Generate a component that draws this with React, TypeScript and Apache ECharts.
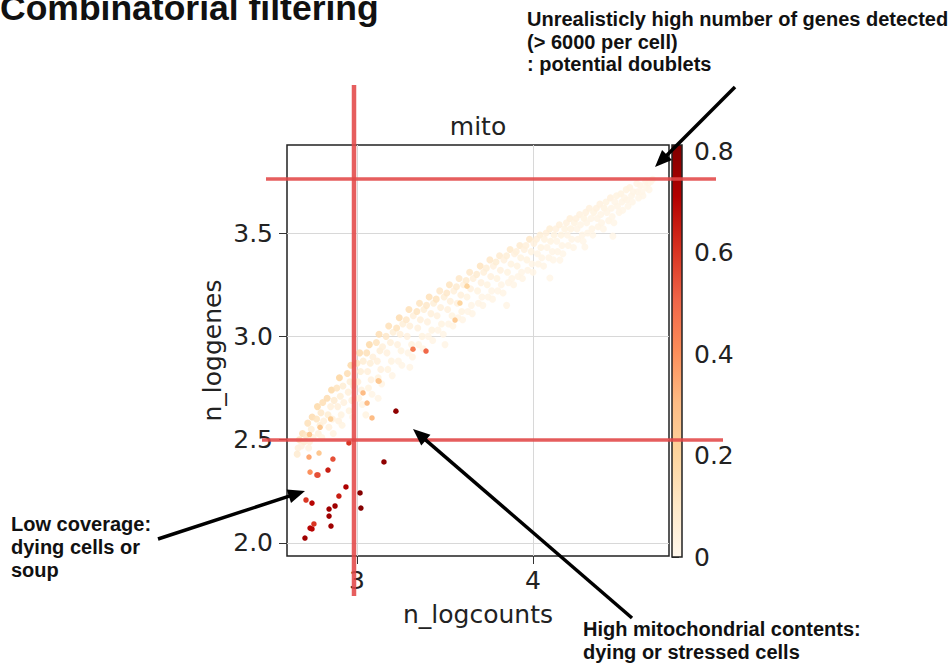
import React, { useEffect, useRef } from 'react';
import * as echarts from 'echarts';

// ---------- data ----------
const xTicks = [3, 4];
const yTicks = [2.0, 2.5, 3.0, 3.5];
const cbTicks = [0, 0.2, 0.4, 0.6, 0.8];
const xRange = [2.602, 4.773];
const yRange = [1.937, 3.926];
const mitoMax = 0.812;
const orrd = ['#fff7ec', '#fee8c8', '#fdd49e', '#fdbb84', '#fc8d59', '#ef6548', '#d7301f', '#b30000', '#7f0000'];

// [n_logcounts, n_loggenes, mito] — dense main cloud
const bandCells = [
  [2.665,2.46,.05],[2.672,2.50,.12],[2.684,2.47,.04],[2.69,2.53,.15],[2.70,2.49,.06],[2.66,2.43,.08],
  [2.71,2.52,.10],[2.72,2.58,.14],[2.73,2.49,.05],[2.74,2.55,.06],[2.745,2.61,.16],[2.75,2.51,.04],[2.725,2.46,.03],
  [2.77,2.60,.12],[2.775,2.66,.18],[2.78,2.53,.05],[2.79,2.57,.06],[2.795,2.63,.10],[2.80,2.51,.03],[2.805,2.68,.15],[2.81,2.59,.05],
  [2.83,2.70,.16],[2.835,2.62,.07],[2.84,2.56,.04],[2.85,2.66,.05],[2.855,2.74,.18],[2.86,2.60,.04],[2.865,2.53,.03],[2.87,2.69,.08],
  [2.885,2.75,.12],[2.89,2.66,.05],[2.895,2.59,.04],[2.90,2.80,.2],[2.905,2.71,.06],[2.91,2.62,.03],[2.915,2.57,.03],[2.92,2.76,.07],[2.925,2.68,.04],
  [2.945,2.82,.15],[2.95,2.73,.05],[2.955,2.64,.03],[2.96,2.78,.06],[2.965,2.86,.18],[2.97,2.69,.04],[2.975,2.61,.02],[2.98,2.76,.05],
  [3.00,2.87,.12],[3.005,2.78,.05],[3.01,2.70,.03],[3.015,2.92,.16],[3.02,2.83,.06],[3.025,2.74,.04],[3.03,2.67,.02],[3.035,2.88,.07],
  [3.055,2.92,.14],[3.06,2.83,.05],[3.065,2.75,.03],[3.07,2.96,.18],[3.075,2.87,.06],[3.08,2.79,.04],[3.085,2.72,.02],[3.09,2.90,.05],
  [3.11,2.97,.12],[3.115,2.88,.05],[3.12,2.80,.03],[3.125,3.01,.15],[3.13,2.93,.06],[3.135,2.84,.04],[3.14,2.77,.02],[3.145,2.95,.05],
  [3.165,3.00,.1],[3.17,2.92,.04],[3.175,2.84,.03],[3.18,3.05,.14],[3.19,2.97,.05],[3.195,2.88,.03],[3.20,2.81,.02],[3.205,3.02,.06],
  [3.225,3.04,.12],[3.23,2.96,.04],[3.235,2.88,.02],[3.24,3.09,.16],[3.245,3.01,.05],[3.25,2.93,.03],[3.255,2.86,.02],[3.26,3.06,.06],
  [3.28,3.08,.1],[3.285,3.00,.04],[3.29,2.92,.02],[3.295,3.13,.14],[3.30,3.05,.05],[3.31,2.96,.03],[3.315,2.90,.02],[3.32,3.10,.05],
  [3.34,3.12,.12],[3.345,3.04,.04],[3.35,2.96,.02],[3.355,3.16,.12],[3.36,3.08,.05],[3.37,3.00,.03],[3.375,2.94,.02],[3.38,3.13,.06],
  [3.395,3.15,.1],[3.40,3.07,.04],[3.405,3.00,.02],[3.41,3.19,.14],[3.42,3.11,.05],[3.425,3.03,.03],[3.43,2.98,.02],[3.435,3.16,.06],
  [3.45,3.18,.12],[3.455,3.10,.04],[3.46,3.03,.02],[3.47,3.22,.1],[3.475,3.14,.05],[3.48,3.06,.03],[3.49,3.01,.02],[3.495,3.19,.06],
  [3.51,3.21,.1],[3.515,3.13,.04],[3.52,3.06,.02],[3.525,3.25,.12],[3.53,3.17,.05],[3.54,3.10,.03],[3.545,3.05,.02],[3.55,3.22,.05],
  [3.565,3.24,.08],[3.57,3.16,.04],[3.575,3.09,.02],[3.58,3.28,.1],[3.59,3.20,.05],[3.595,3.12,.03],[3.60,3.08,.02],[3.605,3.25,.04],
  [3.62,3.27,.08],[3.625,3.19,.03],[3.63,3.12,.02],[3.64,3.31,.1],[3.645,3.23,.04],[3.65,3.15,.02],[3.655,3.11,.02],[3.66,3.28,.05],
  [3.68,3.30,.08],[3.685,3.22,.03],[3.69,3.16,.02],[3.70,3.34,.12],[3.705,3.26,.04],[3.71,3.19,.02],[3.715,3.15,.02],[3.72,3.31,.05],
  [3.735,3.33,.06],[3.74,3.25,.03],[3.745,3.19,.02],[3.755,3.37,.1],[3.76,3.29,.04],[3.765,3.22,.02],[3.77,3.18,.02],[3.775,3.34,.04],
  [3.79,3.36,.07],[3.795,3.28,.03],[3.80,3.22,.02],[3.81,3.39,.08],[3.815,3.32,.04],[3.82,3.25,.02],[3.83,3.21,.02],[3.835,3.37,.04],
  [3.85,3.39,.06],[3.855,3.31,.03],[3.86,3.26,.02],[3.87,3.42,.09],[3.875,3.35,.03],[3.88,3.28,.02],[3.89,3.25,.02],[3.895,3.40,.04],
  [3.905,3.41,.05],[3.91,3.34,.03],[3.915,3.29,.02],[3.925,3.44,.08],[3.93,3.38,.03],[3.935,3.31,.02],[3.94,3.28,.02],[3.95,3.42,.04],
  [3.96,3.44,.05],[3.965,3.37,.03],[3.97,3.32,.02],[3.98,3.47,.1],[3.99,3.41,.03],[3.995,3.35,.02],[4.00,3.31,.02],[4.005,3.45,.04],
  [4.02,3.47,.05],[4.025,3.40,.02],[4.03,3.35,.02],[4.04,3.49,.06],[4.045,3.43,.03],[4.05,3.38,.02],[4.06,3.34,.02],[4.065,3.47,.03],
  [4.075,3.50,.05],[4.08,3.43,.02],[4.09,3.38,.02],[4.095,3.52,.06],[4.10,3.46,.03],[4.11,3.41,.02],[4.115,3.37,.01],[4.12,3.49,.03],
  [4.13,3.52,.04],[4.135,3.46,.02],[4.14,3.41,.02],[4.15,3.54,.05],[4.16,3.49,.03],[4.165,3.44,.02],[4.17,3.40,.01],[4.18,3.52,.03],
  [4.19,3.55,.04],[4.195,3.49,.02],[4.20,3.44,.02],[4.21,3.57,.05],[4.215,3.52,.03],[4.22,3.47,.02],[4.23,3.43,.01],[4.235,3.55,.03],
  [4.245,3.57,.04],[4.25,3.52,.02],[4.255,3.47,.02],[4.265,3.59,.04],[4.27,3.54,.02],[4.28,3.49,.02],[4.285,3.46,.01],[4.29,3.57,.03],
  [4.30,3.60,.04],[4.305,3.55,.02],[4.31,3.50,.02],[4.32,3.62,.04],[4.33,3.57,.02],[4.335,3.52,.02],[4.34,3.49,.01],[4.345,3.60,.03],
  [4.36,3.62,.04],[4.365,3.57,.02],[4.37,3.53,.02],[4.38,3.64,.04],[4.385,3.59,.02],[4.39,3.55,.02],[4.40,3.52,.01],[4.405,3.62,.03],
  [4.415,3.65,.03],[4.42,3.60,.02],[4.43,3.56,.02],[4.44,3.67,.04],[4.445,3.62,.02],[4.45,3.58,.01],[4.46,3.55,.01],[4.465,3.65,.02],
  [4.475,3.68,.03],[4.48,3.63,.02],[4.49,3.60,.01],[4.50,3.69,.03],[4.505,3.65,.02],[4.51,3.61,.01],[4.52,3.67,.02],
  [4.53,3.71,.03],[4.535,3.66,.02],[4.54,3.63,.01],[4.55,3.72,.03],[4.56,3.68,.02],[4.565,3.65,.01],[4.57,3.70,.02],
  [4.59,3.74,.02],[4.595,3.70,.02],[4.60,3.67,.01],[4.61,3.73,.02],[4.62,3.70,.01],[4.625,3.68,.01],
  [4.64,3.75,.02],[4.645,3.72,.01],[4.655,3.74,.02],[4.66,3.71,.01],[4.67,3.75,.01],[4.68,3.76,.01],
  [3.05,2.62,.03],[3.12,2.70,.02],[3.30,2.85,.02],[3.50,2.96,.02],[3.85,3.15,.02],
  [4.454,3.485,.01],[4.295,3.432,.01],[4.096,3.282,.01],[4.153,3.369,.01]
];

// cells with elevated mitochondrial fraction
const outlierCells = [
  [3.585,3.161,.2],[3.557,3.079,.24],[3.625,3.243,.2],
  [3.318,2.938,.45],[3.392,2.929,.5],[3.034,2.726,.3],[3.057,2.677,.3],[3.125,2.783,.25],[3.12,2.785,.25],
  [2.79,2.56,.25],[2.73,2.525,.25],[2.85,2.60,.22],
  [3.221,2.638,.78],[3.085,2.605,.3],[3.153,2.392,.78],[2.954,2.484,.6],[2.863,2.406,.55],[2.727,2.416,.35],
  [2.784,2.435,.25],[2.733,2.343,.4],[2.772,2.329,.55],[2.778,2.329,.55],[2.835,2.353,.65],[2.937,2.271,.72],
  [2.897,2.227,.65],[3.017,2.242,.8],[2.71,2.208,.6],[2.744,2.193,.7],[2.875,2.179,.75],[2.841,2.164,.75],
  [3.022,2.169,.8],[2.841,2.13,.75],[2.852,2.082,.75],[2.755,2.092,.6],[2.733,2.072,.7],[2.744,2.068,.7],[2.704,2.024,.75]
];

const titleText = 'Combinatorial filtering';
const noteDoublets = ['Unrealisticly high number of genes detected', '(> 6000 per cell)', ': potential doublets'];
const noteLow = ['Low coverage:', 'dying cells or', 'soup'];
const noteMito = ['High mitochondrial contents:', 'dying or stressed cells'];

const MPL = 'DejaVu Sans';
const SLIDE = 'Liberation Sans, Arial, sans-serif';

function arrow(x1: number, y1: number, x2: number, y2: number) {
  const dx = x2 - x1, dy = y2 - y1;
  const len = Math.sqrt(dx * dx + dy * dy);
  const ux = dx / len, uy = dy / len;
  const hl = 17, hw = 7;
  const bx = x2 - ux * hl, by = y2 - uy * hl;
  return [
    { type: 'line', z: 30, shape: { x1, y1, x2: bx + ux * 2, y2: by + uy * 2 }, style: { stroke: '#000', lineWidth: 3.5 } },
    { type: 'polygon', z: 30, shape: { points: [[x2, y2], [bx - uy * hw, by + ux * hw], [bx + uy * hw, by - ux * hw]] }, style: { fill: '#000' } },
  ];
}

// y = baseline of the first line; glyph top-aligned boxes put the baseline ~0.9em below
function lines(texts: string[], x: number, baseline: number, step: number) {
  return texts.map((t, i) => ({
    type: 'text', z: 30, x, y: baseline - 18 + i * step,
    style: { text: t, fill: '#111', font: `bold 20px ${SLIDE}`, verticalAlign: 'top' },
  }));
}

export default function App() {
  const ref = useRef<HTMLDivElement>(null);
  useEffect(() => {
    document.body.style.margin = '0';
    const chart = echarts.init(ref.current!, undefined, { renderer: 'svg' });
    const redLine = { stroke: 'rgba(226,72,72,0.88)' };
    const n = orrd.length;
    const cbStops = orrd.map((_, i) => ({ offset: i / (n - 1), color: orrd[n - 1 - i] }));
    const option: any = {
      animation: false,
      backgroundColor: '#ffffff',
      grid: [
        { left: 287, top: 145, width: 382, height: 411, show: true, borderColor: '#222', borderWidth: 1.5, backgroundColor: '#fff', containLabel: false },
        { left: 672, top: 151, width: 10, height: 406, containLabel: false },
      ],
      xAxis: [
        {
          type: 'value', gridIndex: 0, min: xRange[0], max: xRange[1], splitNumber: 2,
          name: 'n_logcounts', nameLocation: 'middle', nameGap: 46,
          nameTextStyle: { fontFamily: MPL, fontSize: 25, color: '#222' },
          axisLine: { show: false },
          axisTick: { show: true, length: 8, lineStyle: { color: '#333' }, customValues: xTicks },
          axisLabel: { fontFamily: MPL, fontSize: 25, color: '#222', margin: 12, customValues: xTicks, showMinLabel: true, showMaxLabel: true, formatter: (v: number) => String(v) },
          splitLine: { show: true, lineStyle: { color: '#d8d8d8', width: 1 } },
        },
        { type: 'value', gridIndex: 1, show: false, min: 0, max: 1 },
      ],
      yAxis: [
        {
          type: 'value', gridIndex: 0, min: yRange[0], max: yRange[1], splitNumber: 4,
          name: 'n_loggenes', nameLocation: 'middle', nameGap: 62, nameRotate: 90,
          nameTextStyle: { fontFamily: MPL, fontSize: 25, color: '#222' },
          axisLine: { show: false },
          axisTick: { show: true, length: 8, lineStyle: { color: '#333' }, customValues: yTicks },
          axisLabel: { fontFamily: MPL, fontSize: 25, color: '#222', margin: 14, customValues: yTicks, showMinLabel: true, showMaxLabel: true, formatter: (v: number) => v.toFixed(1) },
          splitLine: { show: true, lineStyle: { color: '#d8d8d8', width: 1 } },
        },
        {
          type: 'value', gridIndex: 1, position: 'right', min: 0, max: 0.8, interval: 0.2,
          axisLine: { show: false },
          axisTick: { show: true, length: 7, lineStyle: { color: '#333' }, customValues: cbTicks },
          axisLabel: { fontFamily: MPL, fontSize: 25, color: '#222', margin: 12, customValues: cbTicks, formatter: (v: number) => (v === 0 ? '0' : v.toFixed(1)) },
          splitLine: { show: false },
        },
      ],
      visualMap: {
        type: 'continuous', show: false, min: 0, max: mitoMax, dimension: 2, seriesIndex: [0, 1],
        inRange: { color: orrd },
      },
      series: [
        { type: 'scatter', xAxisIndex: 0, yAxisIndex: 0, data: bandCells, symbolSize: 7, itemStyle: { opacity: 0.85 }, silent: true },
        { type: 'scatter', xAxisIndex: 0, yAxisIndex: 0, data: outlierCells, symbolSize: 5.5, itemStyle: { opacity: 1 }, silent: true },
      ],
      graphic: [
        { type: 'rect', z: 5, shape: { x: 672, y: 145, width: 10, height: 412 }, style: { fill: new echarts.graphic.LinearGradient(0, 0, 0, 1, cbStops), stroke: '#222', lineWidth: 1.5 } },
        { type: 'text', z: 30, x: 478, y: 126, style: { text: 'mito', fill: '#222', font: `25px ${MPL}`, align: 'center', verticalAlign: 'middle' } },
        { type: 'text', z: 30, x: 0, y: -10, style: { text: titleText, fill: '#111', font: `bold 35.5px ${SLIDE}`, verticalAlign: 'top' } },
        ...lines(noteDoublets, 527, 27, 22.5),
        ...lines(noteLow, 11, 532, 23),
        ...lines(noteMito, 583, 637, 22.5),
        // hand-drawn threshold marks
        { type: 'line', z: 20, shape: { x1: 354, y1: 85, x2: 354, y2: 596 }, style: { ...redLine, lineWidth: 4.5 } },
        { type: 'line', z: 20, shape: { x1: 266, y1: 179, x2: 716, y2: 179 }, style: { ...redLine, lineWidth: 3.5 } },
        { type: 'line', z: 20, shape: { x1: 262, y1: 440, x2: 723, y2: 440 }, style: { ...redLine, lineWidth: 3.5 } },
        ...arrow(735, 87, 655, 167),
        ...arrow(158, 539, 305, 491),
        ...arrow(632, 618, 413, 429),
      ],
    };
    chart.setOption(option);
    return () => chart.dispose();
  }, []);
  return <div ref={ref} style={{ position: 'fixed', left: 0, top: 0, width: 948, height: 663 }} />;
}
